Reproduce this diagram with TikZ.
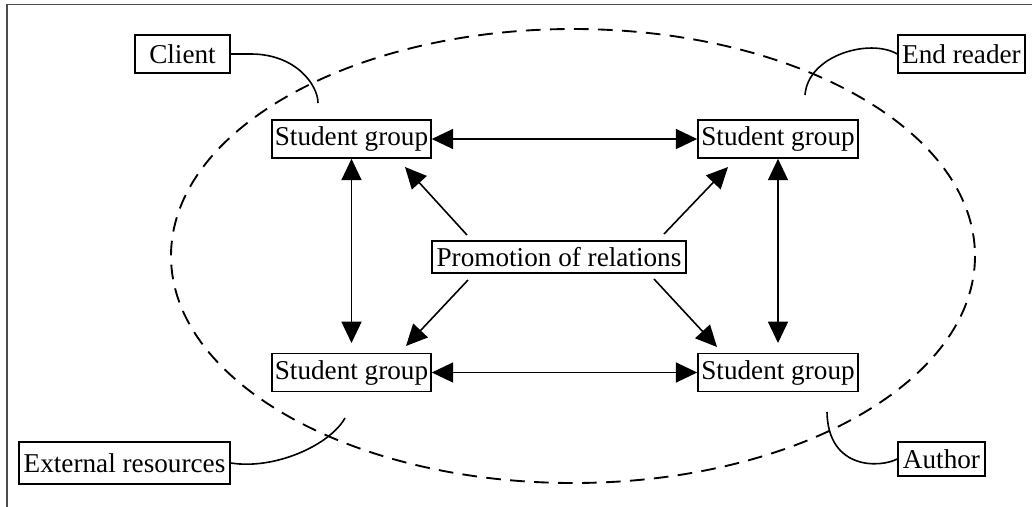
\documentclass[tikz,border=0pt]{standalone}
\usepackage{fontspec}
\setmainfont{Liberation Serif}
\usetikzlibrary{arrows.meta,calc}
\newdimen\px \px=0.75pt
\tikzset{
  box/.style={draw, line width=1.2pt, inner sep=0pt, font=\fontsize{20.4}{24}\selectfont},
  dbl/.style={line width=1.2pt, {Triangle[length=16pt,width=15pt]}-{Triangle[length=16pt,width=15pt]}},
  sgl/.style={line width=1.2pt, -{Triangle[length=16pt,width=15pt]}},
  conn/.style={line width=1.2pt},
  framel/.style={line width=1.3pt, draw=black!70}
}
\begin{document}
\begin{tikzpicture}[x=0.75pt,y=-0.75pt]
\useasboundingbox (0,0) rectangle (1032,507);
\fill[white] (0,0) rectangle (1032,507);
% frame
\draw[framel] (7,510) -- (7,4.5) -- (1035,4.5);
% ellipse
\draw[line width=1.4pt, dash pattern=on 11pt off 7pt] (573,256) ellipse [x radius=402, y radius=227];
% nodes
\node[box, minimum width=159\px, minimum height=38\px] (sgTL) at (351.5,139) {Student group};
\node[box, minimum width=160\px, minimum height=38\px] (sgTR) at (778,139) {Student group};
\node[box, minimum width=159\px, minimum height=38\px] (sgBL) at (351.5,372.5) {Student group};
\node[box, minimum width=160\px, minimum height=38\px] (sgBR) at (778,372.5) {Student group};
\node[box, minimum width=254\px, minimum height=32\px] (prom) at (559,257) {Promotion of relations};
\node[box, minimum width=95\px, minimum height=38\px] (client) at (182.5,54) {Client};
\node[box, minimum width=127\px, minimum height=38\px] (endr) at (961.5,54) {End reader};
\node[box, minimum width=211\px, minimum height=42\px] (ext) at (124.5,463) {External resources};
\node[box, minimum width=87\px, minimum height=34\px] (author) at (941.5,459) {Author};
% free ends
\coordinate (vlb) at (351.5,343);
\coordinate (vrb) at (778,343);
\coordinate (ulS) at (467,235);
\coordinate (ulT) at (405,167);
\coordinate (urS) at (664,234);
\coordinate (urT) at (728,167);
\coordinate (llS) at (468,280);
\coordinate (llT) at (406,346);
\coordinate (lrS) at (654,279);
\coordinate (lrT) at (717,347);
\coordinate (cE) at (318,103);
\coordinate (eE) at (805,95);
\coordinate (xE) at (345,418);
\coordinate (aE) at (827,412);
% arrows
\draw[dbl] (sgTL.east) -- (sgTR.west);
\draw[dbl] (sgBL.east) -- (sgBR.west);
\draw[dbl] (sgTL.south) -- (vlb);
\draw[dbl] (sgTR.south) -- (vrb);
\draw[sgl] (ulS) -- (ulT);
\draw[sgl] (urS) -- (urT);
\draw[sgl] (llS) -- (llT);
\draw[sgl] (lrS) -- (lrT);
% label connectors
\draw[conn] (client.east) -- ++(20,0) .. controls +(45,0) and (318,85) .. (cE);
\draw[conn] (endr.west) .. controls (870,38) and (808,55) .. (eE);
\draw[conn] (ext.east) .. controls (275,470) and (330,445) .. (xE);
\draw[conn] (author.west) .. controls (880,468) and (828,470) .. (aE);
\end{tikzpicture}
\end{document}
